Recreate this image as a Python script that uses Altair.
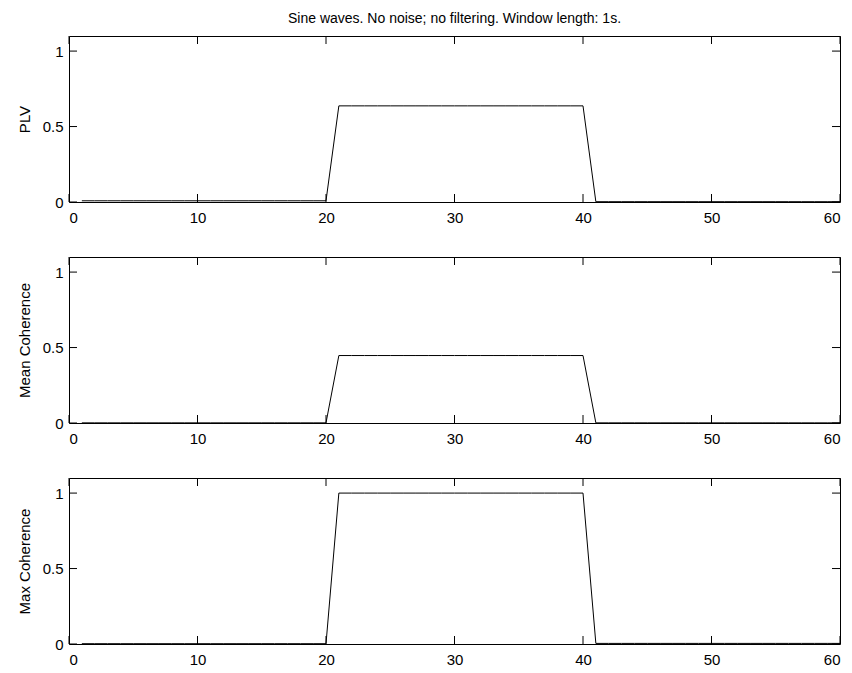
import altair as alt
import pandas as pd

# Data
x_vals = list(range(1, 61))
plv = ([0.008, 0.008, 0.008, 0.008, 0.008, 0.008, 0.008, 0.008, 0.008, 0.008,
        0.008, 0.008, 0.008, 0.008, 0.008, 0.008, 0.008, 0.008, 0.008, 0.008] +
       [0.637, 0.637, 0.637, 0.637, 0.637, 0.637, 0.637, 0.637, 0.637, 0.637,
        0.637, 0.637, 0.637, 0.637, 0.637, 0.637, 0.637, 0.637, 0.637, 0.637] +
       [0.002, 0.002, 0.002, 0.002, 0.002, 0.002, 0.002, 0.002, 0.002, 0.002,
        0.002, 0.002, 0.002, 0.002, 0.002, 0.002, 0.002, 0.002, 0.002, 0.002])
mean_coh = ([0.001, 0.001, 0.001, 0.001, 0.001, 0.001, 0.001, 0.001, 0.001, 0.001,
             0.001, 0.001, 0.001, 0.001, 0.001, 0.001, 0.001, 0.001, 0.001, 0.001] +
            [0.447, 0.447, 0.447, 0.447, 0.447, 0.447, 0.447, 0.447, 0.447, 0.447,
             0.447, 0.447, 0.447, 0.447, 0.447, 0.447, 0.447, 0.447, 0.447, 0.447] +
            [0.001, 0.001, 0.001, 0.001, 0.001, 0.001, 0.001, 0.001, 0.001, 0.001,
             0.001, 0.001, 0.001, 0.001, 0.001, 0.001, 0.001, 0.001, 0.001, 0.001])
max_coh = ([0.002, 0.002, 0.002, 0.002, 0.002, 0.002, 0.002, 0.002, 0.002, 0.002,
            0.002, 0.002, 0.002, 0.002, 0.002, 0.002, 0.002, 0.002, 0.002, 0.002] +
           [1.0, 1.0, 1.0, 1.0, 1.0, 1.0, 1.0, 1.0, 1.0, 1.0,
            1.0, 1.0, 1.0, 1.0, 1.0, 1.0, 1.0, 1.0, 1.0, 1.0] +
           [0.004, 0.004, 0.004, 0.004, 0.004, 0.004, 0.004, 0.004, 0.004, 0.004,
            0.004, 0.004, 0.004, 0.004, 0.004, 0.004, 0.004, 0.004, 0.004, 0.004])
x_ticks = [0, 10, 20, 30, 40, 50, 60]
y_ticks = [0, 0.5, 1]
y_titles = ["PLV", "Mean Coherence", "Max Coherence"]
title_text = "Sine waves. No noise; no filtering. Window length: 1s."

W, H = 771, 166
TL = 8
FONT = "Liberation Sans"
FS = 15

xscale = alt.Scale(domain=[0, 60], nice=False, zero=False)
yscale = alt.Scale(domain=[0, 1.1], nice=False)
xt = pd.DataFrame({"t": x_ticks})
yt = pd.DataFrame({"t": y_ticks})

xaxis = alt.Axis(values=x_ticks, tickSize=0, domain=False, grid=False,
                 labelPadding=8, labelFontSize=FS, labelColor="black",
                 labelFont=FONT, title=None)


def yaxis(ytitle):
    return alt.Axis(values=y_ticks, tickSize=0, domain=False, grid=False,
                    format="~g", labelPadding=6, labelFontSize=FS,
                    labelColor="black", labelFont=FONT, title=ytitle,
                    titleFont=FONT, titleFontSize=FS, titleFontWeight="normal",
                    titleColor="black", titlePadding=10)


def panel(values, ytitle):
    df = pd.DataFrame({"x": x_vals, "y": values})
    ya = yaxis(ytitle)
    line = alt.Chart(df).mark_line(color="black", strokeWidth=1).encode(
        x=alt.X("x:Q", scale=xscale, axis=xaxis),
        y=alt.Y("y:Q", scale=yscale, axis=ya),
    )
    bt = alt.Chart(xt).mark_rule(color="black", strokeWidth=1).encode(
        x=alt.X("t:Q", scale=xscale, axis=xaxis), y=alt.value(H), y2=alt.value(H - TL))
    tt = alt.Chart(xt).mark_rule(color="black", strokeWidth=1).encode(
        x=alt.X("t:Q", scale=xscale, axis=xaxis), y=alt.value(0), y2=alt.value(TL))
    lt = alt.Chart(yt).mark_rule(color="black", strokeWidth=1).encode(
        y=alt.Y("t:Q", scale=yscale, axis=ya), x=alt.value(0), x2=alt.value(TL))
    rt = alt.Chart(yt).mark_rule(color="black", strokeWidth=1).encode(
        y=alt.Y("t:Q", scale=yscale, axis=ya), x=alt.value(W), x2=alt.value(W - TL))
    return alt.layer(line, bt, tt, lt, rt).properties(width=W, height=H)


p1 = panel(plv, y_titles[0]).properties(
    title=alt.TitleParams(title_text, anchor="middle", frame="group", fontSize=14,
                          fontWeight="normal", font=FONT, color="black", offset=10))
p2 = panel(mean_coh, y_titles[1])
p3 = panel(max_coh, y_titles[2])

chart = alt.vconcat(p1, p2, p3, spacing=30).configure(
    background="white"
).configure_view(
    stroke="black", strokeWidth=1
).properties(padding={"left": 16, "top": 11, "right": 5, "bottom": 5})

chart.save("out.html", embed_options={"renderer": "svg", "actions": False})
